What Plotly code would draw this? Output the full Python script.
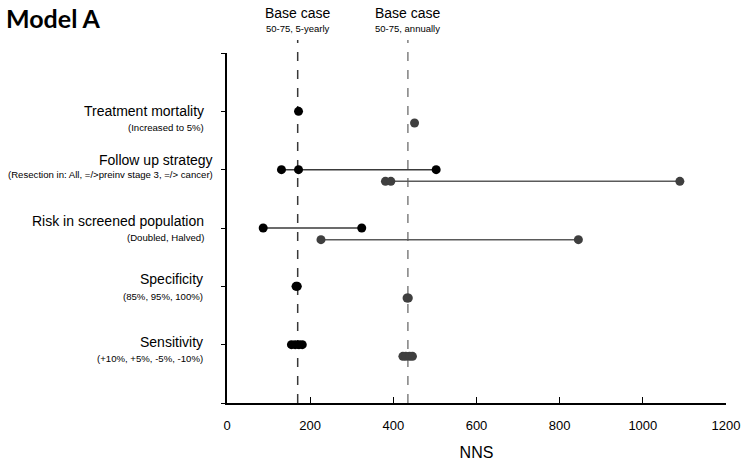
import plotly.graph_objects as go

categories = ["Treatment mortality", "Follow up strategy", "Risk in screened population", "Specificity", "Sensitivity"]
subtitles = ["(Increased to 5%)", "(Resection in: All, =/>preinv stage 3, =/> cancer)",
             "(Doubled, Halved)", "(85%, 95%, 100%)", "(+10%, +5%, -5%, -10%)"]
category_pos = [5, 4, 3, 2, 1]
five_yearly = [[172], [131, 172, 503], [87, 324], [166, 169], [155, 164, 173, 181]]
annually = [[451], [381, 394, 1089], [226, 845], [433, 436], [423, 430, 439, 446]]
base_values = [170, 435]
base_titles = ["Base case", "Base case"]
base_subtitles = ["50-75, 5-yearly", "50-75, annually"]
x_ticks = [0, 200, 400, 600, 800, 1000, 1200]

FONT = "Liberation Sans, Arial, sans-serif"
series = [
    (five_yearly, 0.0, "#000000", "#3a3a3a"),
    (annually, -0.2, "#3f3f3f", "#5a5a5a"),
]

W, H = 742, 463
L, R, T, B = 227, 16, 53, 60
PW, PH = W - L - R, H - T - B

# label placement (style only): right edge in px from plot left, vertical shifts in px
label_right = [-21, -12, -21, -22, -22]
main_shift = [0, 10, 7, 7, 3]
sub_shift = [-16, -5, -9, -10, -14]

fig = go.Figure()
for vals_list, off, mcol, lcol in series:
    for pos, vals in zip(category_pos, vals_list):
        y = pos + off
        if len(vals) > 1:
            fig.add_trace(go.Scatter(x=[min(vals), max(vals)], y=[y, y], mode="lines",
                                     line=dict(color=lcol, width=1.5), showlegend=False,
                                     hoverinfo="skip"))
        fig.add_trace(go.Scatter(x=vals, y=[y] * len(vals), mode="markers",
                                 marker=dict(color=mcol, size=9), showlegend=False))

dash_cols = ["#383838", "#808080"]
for bv, bt, bs, dc in zip(base_values, base_titles, base_subtitles, dash_cols):
    fig.add_shape(type="line", xref="x", yref="paper", x0=bv, x1=bv, y0=0, y1=1 + 13 / PH,
                  line=dict(color=dc, width=1.5, dash="dash"), layer="below")
    fig.add_annotation(x=bv, xref="x", yref="paper", y=1 + 40 / PH, text=bt, showarrow=False,
                       font=dict(family=FONT, size=14, color="#000"), xanchor="center", yanchor="middle")
    fig.add_annotation(x=bv, xref="x", yref="paper", y=1 + 25 / PH, text=bs, showarrow=False,
                       font=dict(family=FONT, size=9.5, color="#000"), xanchor="center", yanchor="middle")

for cat, sub, pos, xr, ms, ss in zip(categories, subtitles, category_pos, label_right, main_shift, sub_shift):
    fig.add_annotation(x=xr / PW, xref="paper", y=pos, yref="y", yshift=ms, text=cat, showarrow=False,
                       font=dict(family=FONT, size=14, color="#000"), xanchor="right", yanchor="middle")
    fig.add_annotation(x=xr / PW, xref="paper", y=pos, yref="y", yshift=ss, text=sub, showarrow=False,
                       font=dict(family=FONT, size=9.6, color="#000"), xanchor="right", yanchor="middle")

fig.add_annotation(x=(-L + 4) / PW, xref="paper", y=1 + (T - 18) / PH, yref="paper",
                   text="<b>Model A</b>", showarrow=False,
                   font=dict(family="Lato, sans-serif", size=25, color="#000"),
                   xanchor="left", yanchor="middle")

fig.update_layout(
    width=W, height=H,
    margin=dict(l=L, r=R, t=T, b=B, autoexpand=False),
    plot_bgcolor="white", paper_bgcolor="white",
    font=dict(family=FONT, color="#000"),
    xaxis=dict(range=[0, 1200], tickvals=x_ticks, ticks="inside", ticklen=6, tickwidth=1,
               tickcolor="#000", showline=True, linecolor="#000", linewidth=1.5,
               showgrid=False, zeroline=False, tickfont=dict(size=13), automargin=False,
               ticklabelstandoff=10,
               title=dict(text="NNS", font=dict(size=16), standoff=14)),
    yaxis=dict(range=[0, 6], tickvals=[0, 1, 2, 3, 4, 5, 6], ticks="outside", ticklen=4,
               tickcolor="#000", showticklabels=False, showline=True, linecolor="#000",
               linewidth=1.5, showgrid=False, zeroline=False, automargin=False),
)

fig.write_html("out.html", config={"displayModeBar": False},
               post_script="document.body.style.margin='0';document.body.style.overflow='hidden';")
